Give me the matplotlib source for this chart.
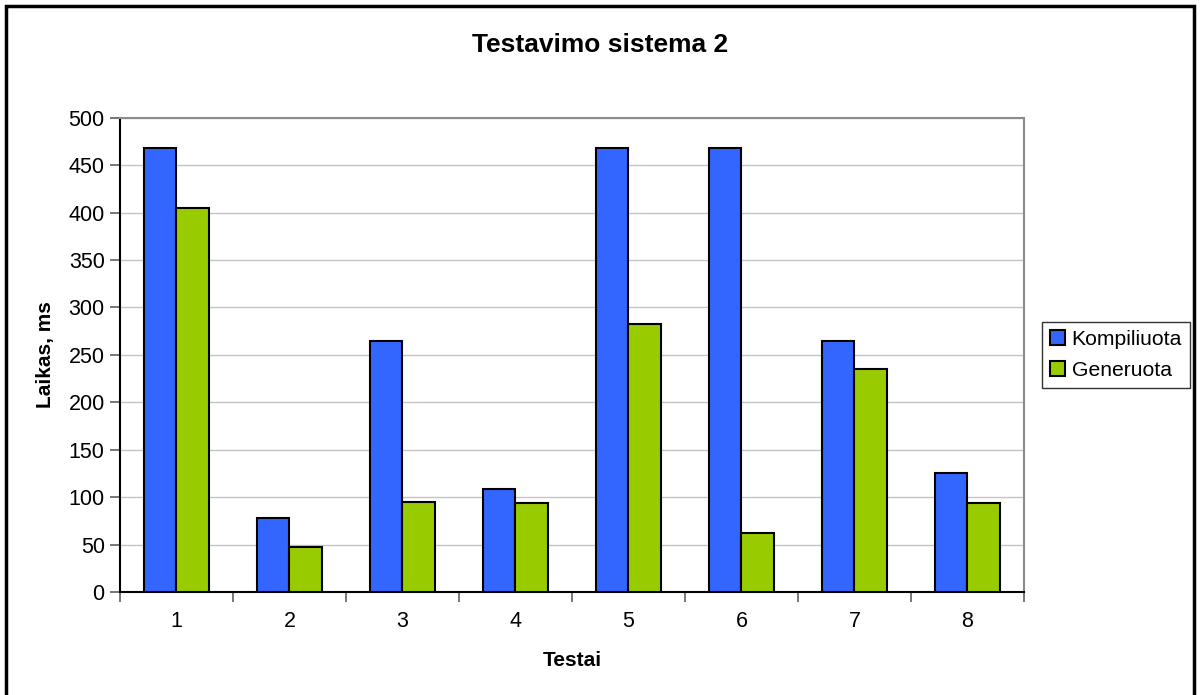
import matplotlib.pyplot as plt
import numpy as np
from matplotlib.patches import Rectangle

plt.rcParams['font.family'] = ['Liberation Sans', 'DejaVu Sans']

# test results, time in ms
tests = ['1', '2', '3', '4', '5', '6', '7', '8']
kompiliuota = [468, 78, 265, 109, 468, 468, 265, 125]
generuota = [405, 47, 95, 94, 282, 62, 235, 94]

fig = plt.figure(figsize=(12, 6.95), dpi=100)
ax = fig.add_axes([0.1, 0.1482, 0.7533, 0.6825])

x = np.arange(len(tests))
w = 1 / 3.5  # two bars + 150% gap per category
ax.bar(x - w / 2, kompiliuota, w, color='#3366FF', edgecolor='black', linewidth=1.5,
       label='Kompiliuota', zorder=3)
ax.bar(x + w / 2, generuota, w, color='#99CC00', edgecolor='black', linewidth=1.5,
       label='Generuota', zorder=3)

ax.set_xlim(-0.5, len(tests) - 0.5)
ax.set_ylim(0, 500)
ax.set_yticks(range(0, 501, 50))
ax.yaxis.grid(True, color='#c4c4c4', linewidth=1.0, zorder=0)

# category ticks sit between groups, labels in the middle
ax.set_xticks(np.arange(-0.5, len(tests)), minor=False)
ax.set_xticklabels([])
ax.set_xticks(x, minor=True)
ax.set_xticklabels(tests, minor=True)
ax.tick_params(axis='x', which='minor', length=0, pad=14, labelsize=15.5)
ax.tick_params(axis='x', which='major', length=7, width=1.2, color='#606060')
ax.tick_params(axis='y', length=7, width=1.2, color='#606060', labelsize=15.5, pad=4)

for side in ['top', 'right']:
    ax.spines[side].set_color('#8c8c8c')
    ax.spines[side].set_linewidth(1.5)
for side in ['left', 'bottom']:
    ax.spines[side].set_color('black')
    ax.spines[side].set_linewidth(1.5)

ax.set_ylabel('Laikas, ms', fontsize=15, fontweight='bold', labelpad=10)
ax.set_xlabel('Testai', fontsize=15, fontweight='bold', labelpad=13)
fig.text(0.5, 0.935, 'Testavimo sistema 2', ha='center', va='center',
         fontsize=19, fontweight='bold')

leg = ax.legend(loc='center left', fontsize=15.2,
                frameon=True, fancybox=False, edgecolor='black', handlelength=0.7,
                handleheight=0.7, handletextpad=0.3, borderpad=0.4,
                labelspacing=0.55, borderaxespad=0)
leg.set_bbox_to_anchor((1.02, 0.5), transform=ax.transAxes)
leg.get_frame().set_linewidth(1.0)

# outer chart border
fig.patches.append(Rectangle((6 / 1200, -0.01), 1188 / 1200, 1 - 6 / 695 + 0.01,
                             transform=fig.transFigure, fill=False,
                             edgecolor='black', linewidth=2.5))

fig.savefig('out.png', dpi=100)
